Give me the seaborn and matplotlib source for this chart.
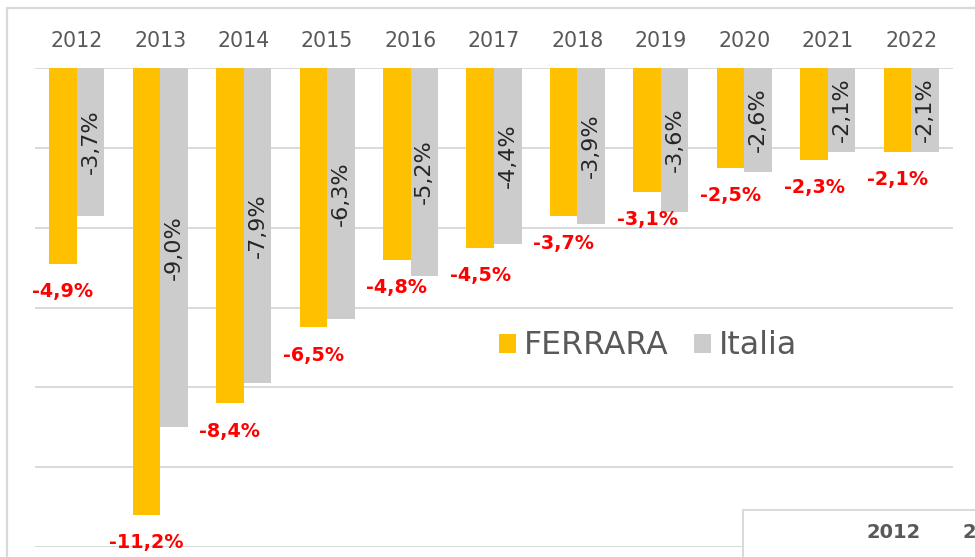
import matplotlib
matplotlib.use("Agg")
import matplotlib.pyplot as plt
from matplotlib.lines import Line2D
from matplotlib.patches import Rectangle
import pandas as pd
import seaborn as sns

# data
years = ["2012", "2013", "2014", "2015", "2016", "2017", "2018", "2019", "2020", "2021", "2022"]
ferrara = [-4.9, -11.2, -8.4, -6.5, -4.8, -4.5, -3.7, -3.1, -2.5, -2.3, -2.1]
italia = [-3.7, -9.0, -7.9, -6.3, -5.2, -4.4, -3.9, -3.6, -2.6, -2.1, -2.1]
series = ["FERRARA", "Italia"]

GOLD = "#FFC000"
GREY_BAR = "#CCCCCC"
TEXT = "#595959"
GRID = "#D9D9D9"


def fmt(v):
    return f"{v:.1f}%".replace(".", ",")


df = pd.DataFrame({
    "anno": years * 2,
    "serie": [series[0]] * len(years) + [series[1]] * len(years),
    "valore": ferrara + italia,
})

sns.set_style("white")
plt.rcParams["font.family"] = ["DejaVu Sans"]

fig = plt.figure(figsize=(9.75, 5.57), dpi=100)
ax = fig.add_axes([35 / 975, 1 - 547 / 557, (953 - 35) / 975, (547 - 68) / 557])

sns.barplot(data=df, x="anno", y="valore", hue="serie", order=years, hue_order=series,
            palette={series[0]: GOLD, series[1]: GREY_BAR}, saturation=1,
            width=0.66, errorbar=None, ax=ax, zorder=2, linewidth=0, edgecolor="none")

ax.set_ylim(-12, 0)
ax.set_yticks(range(-12, 1, 2))
ax.set_yticklabels([])
ax.yaxis.grid(True, color=GRID, linewidth=1.4, zorder=0)
ax.set_axisbelow(True)
ax.xaxis.tick_top()
ax.tick_params(axis="x", length=0, pad=12, labelsize=14.8, labelcolor=TEXT)
ax.tick_params(axis="y", length=0)
ax.set_xlabel("")
ax.set_ylabel("")
for s in ax.spines.values():
    s.set_visible(False)

# ferrara labels under the bars, red bold
for bar, v in zip(ax.containers[0], ferrara):
    ax.annotate(fmt(v), (bar.get_x() + bar.get_width() / 2, v), xytext=(0, -20),
                textcoords="offset points", ha="center", va="center",
                color="#FF0000", fontsize=13.8, fontweight="bold", annotation_clip=False)

# italia labels rotated inside the bars
ax.bar_label(ax.containers[1], labels=[fmt(v) for v in italia], label_type="center",
             rotation=90, fontsize=16, color="#262626")

ax.legend(loc="center", bbox_to_anchor=(0.668, 0.42), ncol=2, frameon=False,
          fontsize=22.7, handlelength=0.55, handleheight=0.55, handletextpad=0.25,
          columnspacing=0.8, labelcolor=TEXT, title=None)

# outer chart border (cropped)
fig.add_artist(Line2D([7 / 975, 1], [1 - 8 / 557, 1 - 8 / 557], color=GRID,
                      linewidth=1.6, transform=fig.transFigure))
fig.add_artist(Line2D([7 / 975, 7 / 975], [0, 1 - 8 / 557], color=GRID,
                      linewidth=1.6, transform=fig.transFigure))

# cropped table box at bottom right
fig.add_artist(Rectangle((743 / 975, -0.05), 0.5, 0.05 + (557 - 510) / 557,
                         transform=fig.transFigure, facecolor="white",
                         edgecolor=GRID, linewidth=1.4, zorder=5))
fig.text(867 / 975, 1 - 532 / 557, "2012", fontsize=14, fontweight="bold",
         color=TEXT, va="center", ha="left", zorder=6)
fig.text(962 / 975, 1 - 532 / 557, "2", fontsize=14, fontweight="bold",
         color=TEXT, va="center", ha="left", zorder=6)

fig.savefig("out.png", dpi=100)
